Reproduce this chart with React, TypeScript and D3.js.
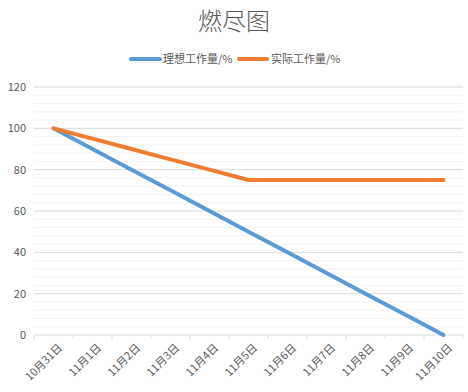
import React from "react";
import * as d3 from "d3";

const categories = ["10月31日", "11月1日", "11月2日", "11月3日", "11月4日", "11月5日", "11月6日", "11月7日", "11月8日", "11月9日", "11月10日"];
const idealValues = [100, 90, 80, 70, 60, 50, 40, 30, 20, 10, 0];
const actualValues = [100, 95, 90, 85, 80, 75, 75, 75, 75, 75, 75];
const yTicks = [0, 20, 40, 60, 80, 100, 120];
const minorTicks = d3.range(0, 121, 4);

const W = 468;
const H = 392;
const margin = { left: 34, right: 5, top: 87, bottom: 57 };
const font = "'Microsoft YaHei', 'Noto Sans CJK SC', sans-serif";

export default function App() {
  const x = d3.scaleBand().domain(categories).range([margin.left, W - margin.right]);
  const y = d3.scaleLinear().domain([0, 120]).range([H - margin.bottom, margin.top]);
  const line = d3.line<number>()
    .x((_, i) => (x(categories[i]) as number) + x.bandwidth() / 2)
    .y(d => y(d));
  const tickXs = categories.map(c => x(c) as number).concat([W - margin.right]);

  return (
    <svg width={W} height={H} style={{ position: "absolute", left: 0, top: 0, background: "#fff" }} fontFamily={font}>
      <text x={W / 2} y={30} textAnchor="middle" fontSize={24} fill="#595959" fontWeight={300}>燃尽图</text>
      <g fontSize={11} fill="#595959">
        <line x1={131} x2={160} y1={59} y2={59} stroke="#5b9bd5" strokeWidth={4} strokeLinecap="round" />
        <text x={163} y={63}>理想工作量/%</text>
        <line x1={239} x2={267} y1={59} y2={59} stroke="#ed7d31" strokeWidth={4} strokeLinecap="round" />
        <text x={271} y={63}>实际工作量/%</text>
      </g>
      {minorTicks.filter(t => t % 20 !== 0).map(t => (
        <line key={"m" + t} x1={margin.left} x2={W - margin.right} y1={y(t)} y2={y(t)} stroke="#f2f2f2" strokeWidth={1} />
      ))}
      {yTicks.map(t => (
        <g key={t}>
          <line x1={margin.left} x2={W - margin.right} y1={y(t)} y2={y(t)} stroke="#d9d9d9" strokeWidth={1} />
          <text x={26} y={y(t) + 4} textAnchor="end" fontSize={11} fill="#595959">{t}</text>
        </g>
      ))}
      {tickXs.map((tx, i) => (
        <line key={"t" + i} x1={tx} x2={tx} y1={y(0)} y2={y(0) + 4} stroke="#d9d9d9" />
      ))}
      {categories.map(c => {
        const cx = (x(c) as number) + x.bandwidth() / 2 + 4;
        const cy = y(0) + 8;
        return (
          <text key={c} x={cx} y={cy} textAnchor="end" fontSize={11} fill="#595959"
            transform={`rotate(-45, ${cx}, ${cy})`} dy="0.7em">{c}</text>
        );
      })}
      <path d={line(idealValues) || ""} fill="none" stroke="#5b9bd5" strokeWidth={4} strokeLinejoin="round" strokeLinecap="round" />
      <path d={line(actualValues) || ""} fill="none" stroke="#ed7d31" strokeWidth={4} strokeLinejoin="round" strokeLinecap="round" />
    </svg>
  );
}
